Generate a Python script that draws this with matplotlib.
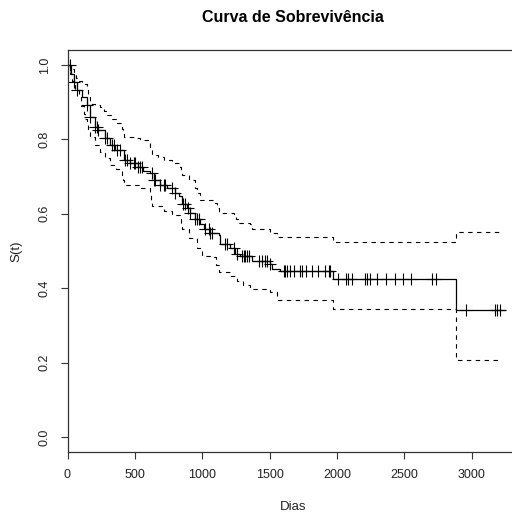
import numpy as np
import matplotlib
matplotlib.use("Agg")
from matplotlib import pyplot as plt

plt.rcParams['font.family'] = ['Liberation Sans', 'DejaVu Sans']

# Kaplan-Meier estimate (step times in days, survival after each step)
km_t = [0, 25, 45, 69, 106, 144, 168, 205, 230, 280, 317, 354, 416, 465, 527,
        564, 614, 639, 688, 738, 799, 824, 849, 886, 911, 948, 985, 1010, 1059,
        1121, 1134, 1208, 1245, 1282, 1369, 1505, 1517, 1579, 1970, 2886, 3245]
km_s = [1.000, 0.976, 0.954, 0.932, 0.914, 0.892, 0.860, 0.834, 0.825, 0.803,
        0.785, 0.772, 0.745, 0.736, 0.727, 0.714, 0.709, 0.691, 0.678, 0.669,
        0.656, 0.647, 0.625, 0.616, 0.603, 0.585, 0.572, 0.558, 0.549, 0.544,
        0.518, 0.509, 0.492, 0.487, 0.474, 0.465, 0.452, 0.447, 0.425, 0.342,
        0.342]

# upper confidence band
up_t = [0, 20, 45, 60, 82, 110, 144, 155, 168, 205, 243, 270, 292, 330, 366,
        403, 410, 416, 490, 540, 601, 614, 626, 670, 713, 775, 837, 843, 849,
        900, 948, 965, 985, 1096, 1110, 1121, 1233, 1250, 1270, 1356, 1369,
        1505, 1554, 1970, 2886, 3200]
up_s = [1.000, 0.990, 0.976, 0.965, 0.956, 0.950, 0.935, 0.915, 0.896, 0.892,
        0.887, 0.875, 0.865, 0.855, 0.843, 0.829, 0.818, 0.807, 0.803, 0.797,
        0.789, 0.773, 0.758, 0.752, 0.745, 0.737, 0.727, 0.716, 0.705, 0.690,
        0.669, 0.655, 0.638, 0.629, 0.615, 0.603, 0.598, 0.587, 0.576, 0.572,
        0.558, 0.549, 0.538, 0.525, 0.552, 0.552]

# lower confidence band
lo_t = [0, 15, 32, 45, 57, 82, 100, 119, 130, 144, 155, 168, 205, 243, 280,
        317, 360, 403, 410, 416, 540, 614, 620, 626, 713, 775, 837, 843, 849,
        900, 960, 997, 1084, 1100, 1121, 1208, 1257, 1300, 1356, 1505, 1554,
        1970, 2886, 3200]
lo_s = [1.000, 0.975, 0.958, 0.945, 0.932, 0.914, 0.890, 0.869, 0.855, 0.838,
        0.822, 0.807, 0.785, 0.767, 0.750, 0.732, 0.720, 0.705, 0.690, 0.678,
        0.669, 0.652, 0.636, 0.620, 0.607, 0.597, 0.585, 0.572, 0.558, 0.535,
        0.509, 0.487, 0.483, 0.463, 0.443, 0.434, 0.420, 0.410, 0.398, 0.389,
        0.369, 0.345, 0.208, 0.208]

# censored observations (days)
cens_t = [15, 45, 69, 144, 168, 205, 218, 230, 280, 292, 329, 342, 366, 391,
          428, 441, 465, 490, 502, 527, 540, 552, 626, 639, 651, 688, 713, 725,
          775, 799, 861, 874, 898, 911, 948, 960, 973, 1022, 1047, 1059, 1072,
          1171, 1183, 1233, 1257, 1294, 1307, 1319, 1331, 1344, 1418, 1443,
          1468, 1480, 1505, 1604, 1616, 1628, 1653, 1678, 1727, 1742, 1767,
          1814, 1859, 1908, 1938, 1950, 2007, 2069, 2081, 2113, 2205, 2222,
          2242, 2296, 2366, 2428, 2489, 2551, 2705, 2737, 2960, 3170, 3190,
          3207]

x_ticks = [0, 500, 1000, 1500, 2000, 2500, 3000]
y_ticks = [0.0, 0.2, 0.4, 0.6, 0.8, 1.0]

W, H = 512, 515
fig = plt.figure(figsize=(W / 100, H / 100), dpi=100)
ax = fig.add_axes([67.5 / W, (H - 452) / H, (520 - 67.5) / W, (452 - 50) / H])

ax.plot(km_t, km_s, drawstyle='steps-post', color='black', lw=0.9)
ax.plot(up_t, up_s, drawstyle='steps-post', color='black', lw=0.8,
        dashes=(4, 4))
ax.plot(lo_t, lo_s, drawstyle='steps-post', color='black', lw=0.8,
        dashes=(4, 4))

# censor marks sit on the KM curve
idx = np.searchsorted(km_t, cens_t, side='right') - 1
cens_s = np.array(km_s)[idx]
ax.plot(cens_t, cens_s, ls='none', marker='+', color='black', ms=8, mew=0.8)

ax.set_xlim(0, 3359)
ax.set_ylim(-0.04, 1.04)
ax.set_xticks(x_ticks)
ax.set_xticklabels([str(v) for v in x_ticks])
ax.set_yticks(y_ticks)
ax.set_yticklabels(['%.1f' % v for v in y_ticks], rotation=90, va='center')
ax.tick_params(labelsize=9, length=5, width=0.8, color='#333333',
               labelcolor='#222222', pad=7)
for sp in ax.spines.values():
    sp.set_linewidth(0.9)
    sp.set_color('#333333')

ax.set_ylabel('S(t)', fontsize=9.5, labelpad=12, color='#222222')
fig.text(293 / W, 1 - 507 / H, 'Dias', ha='center', va='center',
         fontsize=9.5, color='#222222')
fig.text(293 / W, 1 - 18 / H, 'Curva de Sobrevivência', ha='center',
         va='center', fontsize=11.5, fontweight='bold')

fig.savefig('out.png', dpi=100)
